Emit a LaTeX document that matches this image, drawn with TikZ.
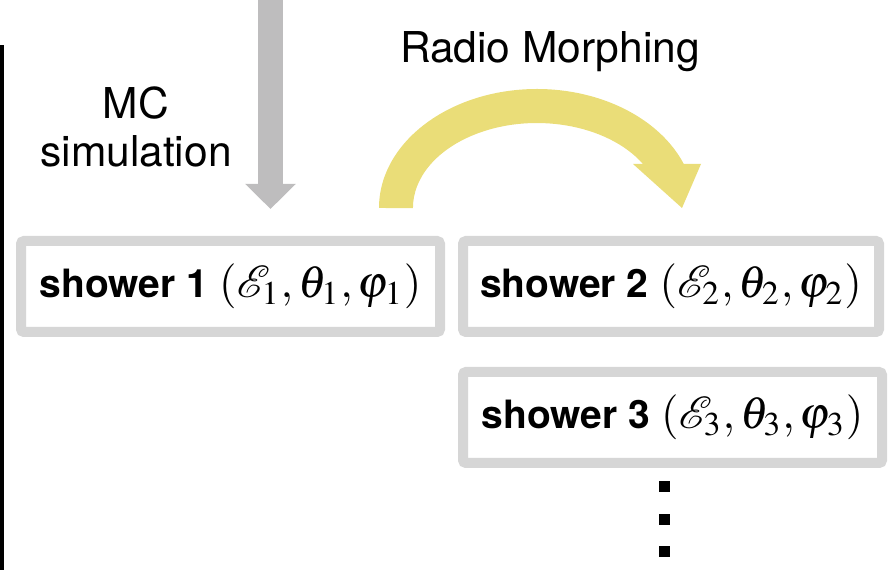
\documentclass[tikz,border=0pt]{standalone}
\usepackage{mathptmx}
\usepackage{mathrsfs}
\usepackage{graphicx}
\usepackage[no-math]{fontspec}
\setmainfont{TeX Gyre Heros}
\usetikzlibrary{arrows.meta}
\definecolor{arrowgray}{HTML}{BEBDBE}
\definecolor{boxgray}{HTML}{D6D6D6}
\definecolor{morphyellow}{HTML}{EADD78}
\newcommand{\showertext}[1]{\scalebox{3.9}{\fontsize{10}{12}\selectfont\textbf{shower #1}}\hspace{11pt}\scalebox{4.5}{\fontsize{10}{12}\selectfont$(\mathscr{E}_{#1}, \theta_{#1}, \varphi_{#1})$}}
\tikzset{
  showerbox/.style={draw=boxgray, line width=10pt, rounded corners=3pt, fill=white,
    minimum height=91pt, inner sep=0pt},
  biglabel/.style={font=\fontsize{42.5}{48}\selectfont, inner sep=0pt},
  dotmark/.style={fill=black, minimum size=11pt, inner sep=0pt},
}
\begin{document}
\begin{tikzpicture}[x=1pt,y=1pt]
\useasboundingbox (0,0) rectangle (895,570);
% left black line
\fill[black] (0,0) rectangle (4,525);
% gray MC arrow
\coordinate (gtop) at (270.5,570);
\coordinate (gtip) at (270.5,361);
\draw[arrowgray, line width=25pt, -{Triangle[width=49pt,length=25pt]}] (gtop) -- (gtip);
\node[biglabel, align=center] (mc) at (136,443) {MC\\simulation};
% Radio Morphing
\node[biglabel, anchor=base] (rm) at (550,507) {Radio Morphing};
\fill[morphyellow] (379,362) arc[start angle=180, end angle=21.7, x radius=158, y radius=119]
  -- (701,406) -- (682,362) -- (633,406) -- (643,406)
  arc[start angle=31.2, end angle=180, x radius=124, y radius=85] -- cycle;
% boxes
\node[showerbox, minimum width=419pt] (s1) at (230.5,283.5) {\showertext{1}};
\node[showerbox, minimum width=416pt] (s2) at (671,283.5) {\showertext{2}};
\node[showerbox, minimum width=419pt] (s3) at (672.5,152.5) {\showertext{3}};
% dots
\node[dotmark] (d1) at (664,83) {};
\node[dotmark] (d2) at (664,50) {};
\node[dotmark] (d3) at (664,18) {};
\end{tikzpicture}
\end{document}
